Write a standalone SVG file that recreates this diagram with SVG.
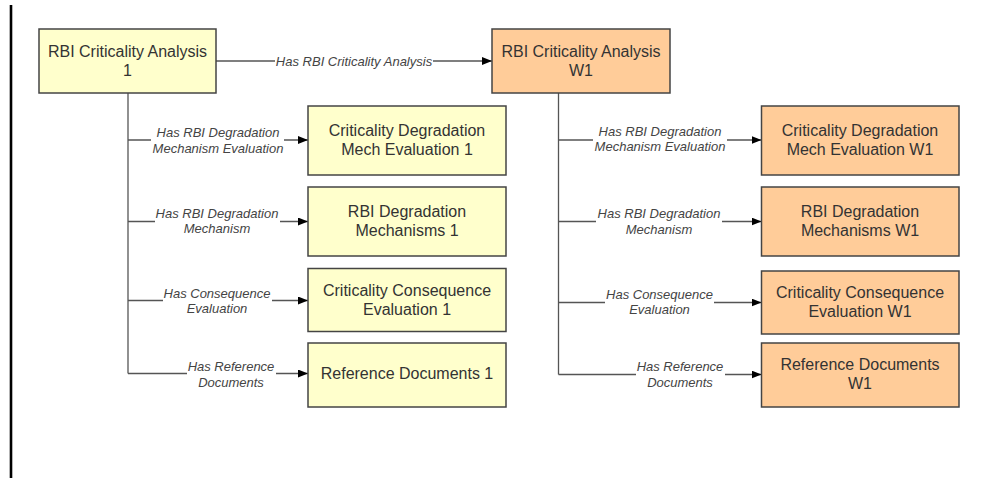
<svg xmlns="http://www.w3.org/2000/svg" width="985" height="478" viewBox="0 0 985 478">
<defs>
<marker id="ah" markerWidth="10" markerHeight="8" refX="10" refY="4" orient="auto" markerUnits="userSpaceOnUse">
<path d="M0,0 L10,4 L0,8 Z" fill="#000"/>
</marker>
<style>
.y{fill:#FFFFCC;stroke:#444;stroke-width:1.5}
.o{fill:#FFCC99;stroke:#444;stroke-width:1.5}
.nt{font-family:"Liberation Sans",Arial,sans-serif;font-size:16px;fill:#333;text-anchor:middle}
.lt{font-family:"Liberation Sans",Arial,sans-serif;font-size:13px;font-style:italic;fill:#444;text-anchor:middle}
.c{fill:none;stroke:#555;stroke-width:1.3}
.bg{fill:#fff}
</style>
</defs>
<rect width="985" height="478" fill="#fff"/>
<line x1="11" y1="5" x2="11" y2="478" stroke="#000" stroke-width="2.6"/>

<g id="connectors">
<path class="c" d="M216,61 H492" marker-end="url(#ah)"/>
<path class="c" d="M128,93 V373.5"/>
<path class="c" d="M128,140 H308" marker-end="url(#ah)"/>
<path class="c" d="M128,221.5 H308" marker-end="url(#ah)"/>
<path class="c" d="M128,300.5 H308" marker-end="url(#ah)"/>
<path class="c" d="M128,373.5 H308" marker-end="url(#ah)"/>
<path class="c" d="M558.5,93 V374.5"/>
<path class="c" d="M558.5,140 H761.5" marker-end="url(#ah)"/>
<path class="c" d="M558.5,221.5 H761.5" marker-end="url(#ah)"/>
<path class="c" d="M558.5,302.5 H761.5" marker-end="url(#ah)"/>
<path class="c" d="M558.5,374.5 H761.5" marker-end="url(#ah)"/>

<rect class="bg" x="275" y="54" width="158" height="14"/>
<text class="lt" x="354" y="65.5">Has RBI Criticality Analysis</text>

<rect class="bg" x="151" y="126" width="133" height="30"/>
<text class="lt" x="218" y="136.5">Has RBI Degradation</text>
<text class="lt" x="218" y="152.5">Mechanism Evaluation</text>
<rect class="bg" x="155" y="207" width="125" height="30"/>
<text class="lt" x="217" y="217.5">Has RBI Degradation</text>
<text class="lt" x="217" y="233">Mechanism</text>
<rect class="bg" x="163" y="287" width="109" height="30"/>
<text class="lt" x="217" y="298">Has Consequence</text>
<text class="lt" x="217" y="313">Evaluation</text>
<rect class="bg" x="187" y="360" width="89" height="30"/>
<text class="lt" x="231" y="370.5">Has Reference</text>
<text class="lt" x="231" y="386.5">Documents</text>

<rect class="bg" x="593" y="126" width="134" height="30"/>
<text class="lt" x="660" y="136">Has RBI Degradation</text>
<text class="lt" x="660" y="151">Mechanism Evaluation</text>
<rect class="bg" x="596" y="207" width="126" height="30"/>
<text class="lt" x="659" y="218">Has RBI Degradation</text>
<text class="lt" x="659" y="233.5">Mechanism</text>
<rect class="bg" x="605" y="288" width="109" height="30"/>
<text class="lt" x="659.5" y="299">Has Consequence</text>
<text class="lt" x="659.5" y="314">Evaluation</text>
<rect class="bg" x="636" y="360" width="89" height="30"/>
<text class="lt" x="680" y="371">Has Reference</text>
<text class="lt" x="680" y="387">Documents</text>
</g>

<g id="n_rbi1">
<rect class="y" x="39" y="29" width="177" height="64"/>
<text class="nt" x="127.5" y="57">RBI Criticality Analysis</text>
<text class="nt" x="127.5" y="76">1</text>
</g>
<g id="n_rbiw1">
<rect class="o" x="492" y="29" width="178" height="64"/>
<text class="nt" x="581" y="57">RBI Criticality Analysis</text>
<text class="nt" x="581" y="76">W1</text>
</g>

<g id="n_cdme1">
<rect class="y" x="308" y="106" width="198" height="69"/>
<text class="nt" x="407" y="136">Criticality Degradation</text>
<text class="nt" x="407" y="155">Mech Evaluation 1</text>
</g>
<g id="n_rdm1">
<rect class="y" x="308" y="187" width="198" height="69"/>
<text class="nt" x="407" y="217">RBI Degradation</text>
<text class="nt" x="407" y="236">Mechanisms 1</text>
</g>
<g id="n_cce1">
<rect class="y" x="308" y="268.5" width="198" height="63"/>
<text class="nt" x="407" y="296">Criticality Consequence</text>
<text class="nt" x="407" y="315">Evaluation 1</text>
</g>
<g id="n_rd1">
<rect class="y" x="308" y="343" width="198" height="64"/>
<text class="nt" x="407" y="379">Reference Documents 1</text>
</g>

<g id="n_cdmew1">
<rect class="o" x="761.5" y="106" width="197.5" height="69"/>
<text class="nt" x="860" y="136">Criticality Degradation</text>
<text class="nt" x="860" y="155">Mech Evaluation W1</text>
</g>
<g id="n_rdmw1">
<rect class="o" x="761.5" y="187" width="197.5" height="69"/>
<text class="nt" x="860" y="217">RBI Degradation</text>
<text class="nt" x="860" y="236">Mechanisms W1</text>
</g>
<g id="n_ccew1">
<rect class="o" x="761.5" y="271" width="197.5" height="63"/>
<text class="nt" x="860" y="298">Criticality Consequence</text>
<text class="nt" x="860" y="317">Evaluation W1</text>
</g>
<g id="n_rdw1">
<rect class="o" x="761.5" y="343" width="197.5" height="64"/>
<text class="nt" x="860" y="370">Reference Documents</text>
<text class="nt" x="860" y="389">W1</text>
</g>
</svg>
